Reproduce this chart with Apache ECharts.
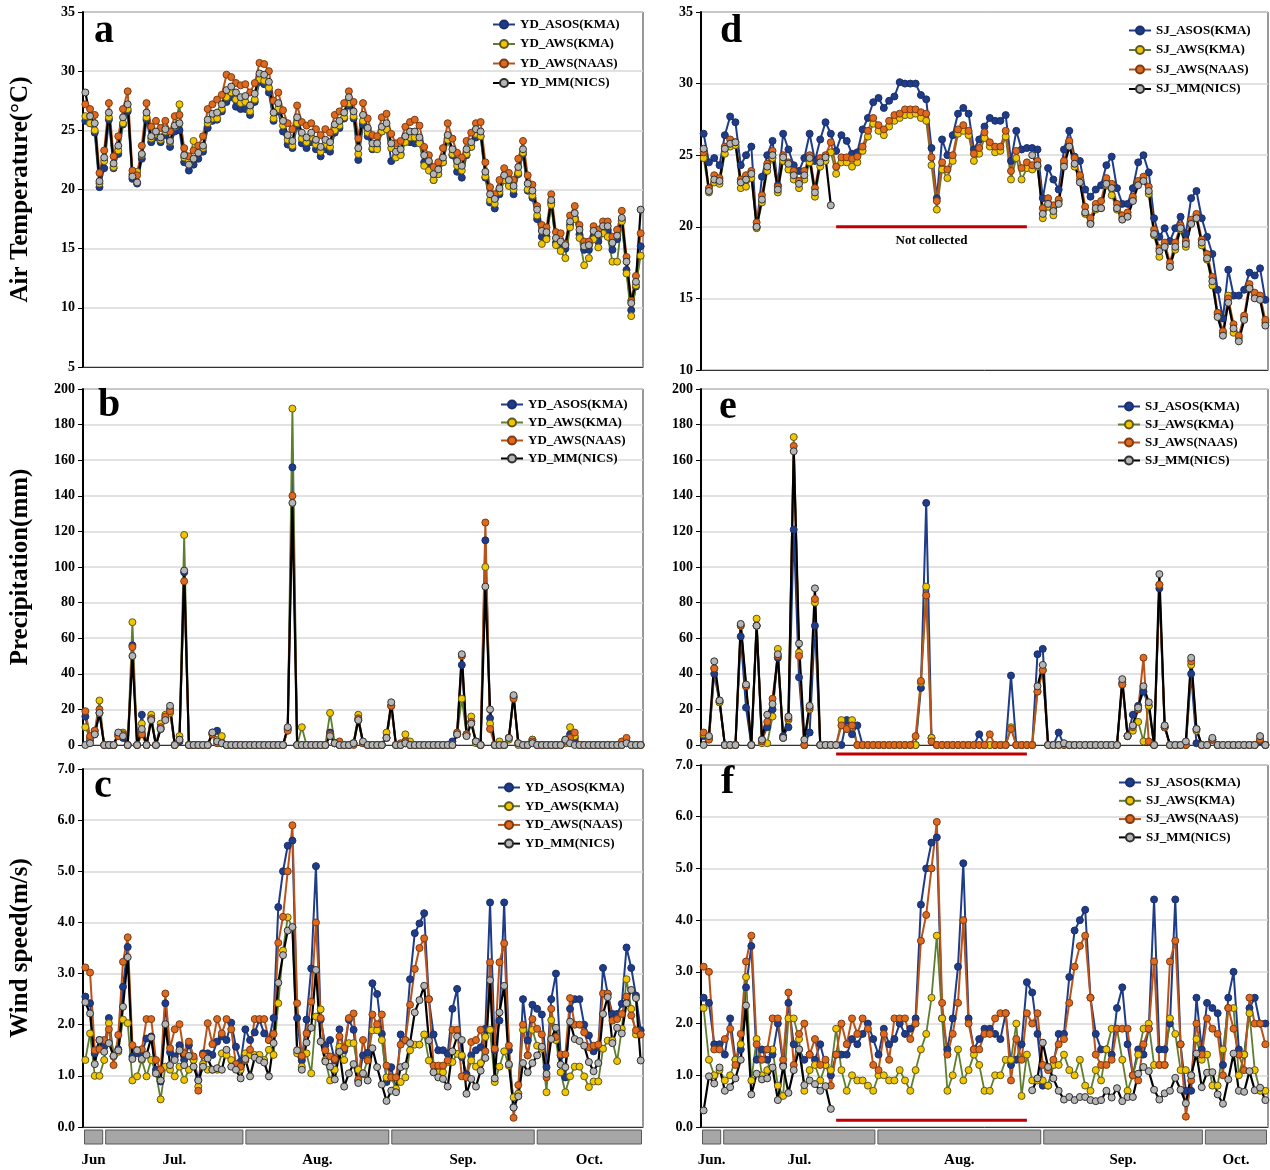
<!DOCTYPE html>
<html><head><meta charset="utf-8">
<script src="https://cdn.jsdelivr.net/npm/echarts@6/dist/echarts.min.js"></script>
<style>html,body{margin:0;padding:0;background:#fff}#c{width:1270px;height:1170px}</style>
</head><body><div id="c"></div>
<script>
const FONT = '"Liberation Serif","Times New Roman",serif';

// ---------- categories ----------
function dayLabels(n){const out=[];const d=new Date(2018,5,27);for(let i=0;i<n;i++){out.push((d.getMonth()+1)+'/'+d.getDate());d.setDate(d.getDate()+1);}return out;}
const daysYD = dayLabels(119);
const daysSJ = dayLabels(107);
const monthNamesYD = ['Jun','Jul.','Aug.','Sep.','Oct.'];
const monthBandsYD = [[-0.5,4.0],[4.0,33.8],[33.8,64.8],[64.8,95.7],[95.7,118.5]];
const monthNamesSJ = ['Jun.','Jul.','Aug.','Sep.','Oct.'];
const monthBandsSJ = [[-0.5,3.5],[3.5,32.6],[32.6,63.9],[63.9,94.4],[94.4,106.5]];
const notCollectedSJ = [25, 61];

const namesYD = ['YD_ASOS(KMA)','YD_AWS(KMA)','YD_AWS(NAAS)','YD_MM(NICS)'];
const namesSJ = ['SJ_ASOS(KMA)','SJ_AWS(KMA)','SJ_AWS(NAAS)','SJ_MM(NICS)'];

// ---------- a: YD air temperature ----------
const ydAsosTemp = [25.8,25.6,24.8,20.2,21.8,25.9,21.8,23.0,25.5,26.6,
20.9,20.5,22.6,25.9,24.0,24.4,24.0,24.6,23.6,24.9,
25.0,22.3,21.6,22.1,22.6,23.2,25.2,25.8,25.9,26.6,
27.4,27.8,27.0,26.8,26.8,26.3,27.4,29.1,28.9,28.2,
25.8,26.6,24.9,23.8,23.5,25.4,23.9,23.5,24.0,23.4,
22.8,23.4,23.2,24.8,25.2,26.0,27.1,26.0,22.5,25.5,
24.5,23.4,23.5,24.9,25.1,22.4,22.8,23.0,24.1,24.0,
23.9,24.0,22.3,22.0,20.8,21.3,22.3,24.3,22.9,21.5,
21.0,22.9,23.6,24.4,24.5,21.0,18.9,18.4,19.6,20.8,
20.4,19.6,21.3,23.0,19.9,19.3,17.5,16.0,16.0,18.9,
15.5,15.1,15.0,17.0,17.6,16.2,14.9,14.9,16.0,15.6,
16.6,16.6,14.9,15.8,17.4,13.2,9.8,11.8,15.2];
const ydAwsTemp = [26.2,25.6,25.0,20.5,22.4,26.1,21.9,23.3,25.6,26.8,
21.3,21.5,22.9,26.1,24.3,24.7,24.2,24.9,24.0,25.3,
27.2,22.7,22.4,24.1,23.2,23.5,25.6,26.0,26.0,26.8,
27.8,28.2,27.6,27.3,27.4,26.6,27.6,29.3,29.2,28.6,
26.0,26.8,25.4,24.2,23.7,25.6,24.3,24.0,24.4,23.8,
23.2,23.8,23.6,25.0,25.4,26.1,27.3,26.2,23.0,25.8,
24.8,23.5,23.4,24.9,25.1,23.5,22.7,22.9,24.0,24.4,
24.4,23.9,22.0,21.6,20.8,21.3,22.3,24.2,23.0,22.0,
21.6,23.0,23.6,24.7,24.5,21.1,19.1,18.8,19.8,20.8,
20.3,20.0,21.4,23.1,20.0,19.5,17.8,15.4,15.8,18.7,
15.3,14.8,14.2,16.8,17.5,15.9,13.6,14.2,15.8,15.1,
16.3,16.0,13.9,13.9,17.3,12.9,9.3,11.9,14.4];
const ydNaasTemp = [27.2,26.8,26.3,21.4,23.3,27.3,22.8,24.5,26.8,28.3,
21.6,21.2,23.7,27.3,25.3,25.8,25.2,25.8,24.9,26.2,
26.3,23.5,22.8,23.3,23.7,24.5,26.8,27.2,27.6,28.0,
29.7,29.5,29.0,28.8,28.9,28.2,29.0,30.7,30.6,30.0,
27.5,28.2,26.7,25.6,25.1,27.1,25.7,25.4,25.6,25.1,
24.6,25.1,24.8,26.3,26.6,27.3,28.3,27.4,24.3,27.3,
26.0,24.6,24.5,26.1,26.4,24.7,23.9,24.1,25.3,25.7,
25.9,25.4,23.6,22.9,21.9,22.3,23.5,25.6,24.3,23.1,
22.7,24.1,24.8,25.6,25.7,22.3,20.2,19.6,20.8,21.8,
21.4,20.8,22.6,24.1,21.2,20.4,18.6,17.0,16.8,19.6,
16.4,16.3,15.4,17.8,18.6,17.0,15.6,15.6,16.9,16.6,
17.3,17.3,16.0,16.6,18.2,14.3,10.6,12.7,16.3];
const ydMmTemp = [28.2,26.2,25.6,20.7,22.7,26.5,22.2,23.7,26.1,27.2,
21.1,20.6,23.0,26.5,24.5,24.9,24.4,25.1,24.1,25.4,
25.6,22.9,22.1,22.6,23.1,23.7,25.9,26.4,26.5,27.2,
28.4,28.7,28.2,27.8,27.9,27.1,28.1,29.8,29.7,29.1,
26.5,27.3,25.8,24.6,24.1,26.1,24.8,24.4,24.8,24.2,
23.6,24.2,24.0,25.5,25.8,26.5,27.8,26.6,23.5,26.3,
25.2,23.9,23.9,25.3,25.6,23.9,23.2,23.4,24.5,24.9,
24.9,24.4,22.9,22.4,21.3,21.7,22.7,24.6,23.4,22.4,
22.0,23.4,24.0,25.1,24.9,21.5,19.6,19.2,20.1,21.2,
20.8,20.3,21.9,23.4,20.5,19.9,18.3,16.5,16.4,19.1,
15.9,15.6,15.3,17.3,18.0,16.6,15.2,15.3,16.5,16.2,
16.9,16.9,15.5,16.1,17.6,13.9,10.4,12.2,18.3];

// ---------- b: YD precipitation ----------
const ydAsosPrec = [16,3,6,18,0,0,0,6,4,0,
56,0,17,0,15,0,9,15,20,0,
2,97,0,0,0,0,0,7,8,1,
0,0,0,0,0,0,0,0,0,0,
0,0,0,9,156,0,0,0,0,0,
0,0,7,1,0,0,0,1,14,1,
0,0,0,0,4,22,0,0,1,0,
0,0,0,0,0,0,0,0,2,6,
45,6,13,2,0,115,15,0,0,0,
4,27,1,0,0,3,0,0,0,0,
0,0,3,6,4,0,0,0,0,0,
0,0,0,0,0,2,0,0,0];
const ydAwsPrec = [10,4,8,25,0,0,0,5,7,0,
69,0,12,0,17,0,12,17,18,0,
5,118,0,0,0,0,0,6,3,5,
0,0,0,0,0,0,0,0,0,0,
0,0,0,9,189,0,10,0,0,0,
0,0,18,1,0,0,0,1,17,1,
0,0,0,0,7,22,0,0,6,2,
0,0,0,0,0,0,0,0,0,6,
26,6,16,1,0,100,12,0,2,0,
3,27,0,0,0,3,0,0,0,0,
0,0,1,10,5,0,0,0,0,0,
0,0,0,0,0,1,0,0,0];
const ydNaasPrec = [19,5,8,20,0,0,0,5,6,0,
55,0,6,0,15,0,10,16,19,0,
3,92,0,0,0,0,0,6,1,1,
0,0,0,0,0,0,0,0,0,0,
0,0,0,8,140,0,0,0,0,0,
0,0,6,1,2,0,0,0,15,1,
0,0,0,0,4,22,0,1,2,0,
0,0,0,0,0,0,0,0,0,7,
50,6,13,2,0,125,9,0,0,0,
4,26,1,0,0,2,0,0,0,0,
0,0,2,4,7,0,0,0,0,0,
0,0,0,0,2,4,0,0,0];
const ydMmPrec = [0,1,6,18,0,0,0,7,5,0,
50,0,9,0,14,0,9,14,22,0,
3,98,0,0,0,0,0,7,2,1,
0,0,0,0,0,0,0,0,0,0,
0,0,0,10,136,0,0,0,0,0,
0,0,5,1,0,0,0,1,14,2,
0,0,0,0,4,24,0,0,1,0,
0,0,0,0,0,0,0,0,0,6,
51,5,12,2,0,89,20,0,0,0,
4,28,1,0,0,1,0,0,0,0,
0,0,3,1,0,0,0,0,0,0,
0,0,0,0,0,1,0,0,0];

// ---------- c: YD wind speed ----------
const ydAsosWind = [2.55,2.42,1.44,1.70,1.57,2.13,1.38,1.52,2.74,3.52,
1.38,1.44,1.44,1.73,1.77,1.12,0.89,2.42,1.46,1.38,
1.60,1.31,1.60,1.34,0.92,1.44,1.44,1.41,1.67,1.77,
1.70,2.04,1.57,1.28,1.91,1.70,1.85,2.10,1.83,1.70,
2.13,4.30,5.00,5.50,5.60,2.13,1.30,2.10,3.10,5.10,
2.10,1.60,1.70,1.30,1.91,1.50,2.10,1.90,0.90,1.40,
1.45,2.81,2.60,1.82,0.88,1.17,0.71,1.81,1.69,2.89,
3.79,3.98,4.18,2.50,1.81,1.50,1.50,1.43,2.31,2.70,
1.37,1.03,1.40,1.50,1.56,1.92,4.39,1.50,2.08,4.39,
1.50,0.39,0.65,2.50,1.69,2.39,2.31,2.20,1.17,2.50,
3.00,1.40,0.97,2.31,2.50,2.50,2.00,1.79,1.48,1.56,
3.11,2.60,2.21,2.21,2.41,3.51,3.11,2.57,1.89];
const ydAwsWind = [1.31,1.83,1.00,1.00,1.31,2.03,1.38,1.47,2.10,2.03,
0.91,0.99,1.31,0.99,1.31,1.05,0.54,1.18,1.12,0.99,
1.18,0.92,1.12,1.31,0.79,1.23,1.12,1.12,1.12,1.44,
1.41,1.31,1.18,1.12,1.44,1.41,1.41,1.41,1.31,1.51,
1.41,2.42,3.45,4.10,3.90,1.44,1.18,1.44,1.05,2.16,
2.30,1.31,0.91,1.12,1.57,1.31,1.64,1.64,1.12,1.03,
1.31,1.89,1.89,1.70,0.97,0.97,0.75,0.88,0.97,1.50,
1.61,1.61,1.81,1.30,1.07,1.07,1.07,1.27,1.27,1.43,
1.40,0.97,1.30,1.18,1.25,1.76,1.90,0.88,1.18,1.48,
1.20,0.58,0.65,1.90,1.40,1.90,1.59,1.53,0.68,2.09,
1.70,1.07,0.68,0.99,1.18,1.18,0.99,0.78,0.89,0.89,
1.53,1.69,1.69,1.29,1.92,2.89,2.31,1.81,1.81];
const ydNaasWind = [3.12,3.02,1.50,1.52,1.70,1.91,1.21,1.80,3.23,3.71,
1.60,1.50,1.52,2.11,2.11,1.31,1.12,2.61,1.54,1.91,
2.01,1.44,1.67,1.38,0.71,1.41,2.03,1.62,2.11,1.83,
2.11,1.91,1.23,1.18,1.30,1.51,2.11,2.11,2.11,1.70,
1.82,3.60,4.11,5.00,5.90,2.42,1.39,1.83,2.45,4.00,
2.13,1.50,1.38,1.33,1.77,1.54,2.13,2.22,0.93,1.70,
1.30,2.20,2.01,2.20,1.20,0.97,0.97,1.61,1.70,2.39,
3.09,3.50,3.69,2.50,1.20,1.20,1.20,1.30,1.90,1.90,
0.99,0.97,1.66,1.70,1.90,1.48,3.22,1.53,3.22,3.59,
1.59,0.18,0.82,2.00,1.40,2.11,1.92,1.81,0.97,2.31,
1.76,1.42,1.42,2.52,2.00,2.00,1.85,1.56,1.59,1.61,
2.61,2.61,2.08,2.11,2.21,2.55,2.18,1.89,1.81];
const ydMmWind = [2.44,2.22,1.23,1.70,1.47,1.64,1.39,1.50,2.35,3.32,
1.33,1.50,1.33,1.41,1.75,1.05,0.91,2.01,1.21,1.31,
1.50,1.21,1.39,1.18,0.91,1.18,1.34,1.12,1.15,1.12,
1.51,1.18,1.12,0.95,1.33,0.99,1.36,1.31,1.26,0.99,
1.64,2.82,3.36,3.84,3.91,1.50,1.12,1.65,1.94,3.07,
1.67,1.28,1.18,0.93,1.47,0.79,1.05,1.23,0.86,1.05,
0.91,1.54,1.17,0.83,0.51,0.71,0.68,1.17,1.20,1.64,
2.24,2.48,2.76,1.69,1.07,0.97,0.94,0.79,1.48,1.77,
1.70,0.65,0.94,0.79,1.10,1.35,2.87,0.95,2.24,2.76,
1.23,0.38,0.60,1.25,1.07,1.25,1.40,1.57,1.04,1.72,
1.94,1.22,1.17,2.06,1.72,1.68,1.59,1.27,1.09,1.25,
2.21,2.54,1.64,1.94,1.83,2.42,2.68,2.52,1.30];

// ---------- d: SJ air temperature ----------
const sjAsosTemp = [26.5,24.5,24.8,24.3,26.4,27.7,27.3,24.3,25.0,25.6,
20.0,23.5,25.0,26.0,22.9,26.5,25.4,24.3,23.9,24.8,
26.5,24.6,26.1,27.3,26.5,25.3,26.4,26.0,25.1,25.2,
26.8,27.6,28.7,29.0,28.3,28.8,29.1,30.1,30.0,30.0,
30.0,29.2,28.9,25.5,22.0,26.1,25.0,26.4,27.9,28.3,
27.9,25.4,26.1,27.0,27.6,27.4,27.4,27.8,24.6,26.7,
25.4,25.5,25.5,25.4,22.0,24.1,23.3,22.6,25.4,26.7,
24.9,24.6,22.6,22.1,22.6,22.9,24.3,24.9,22.7,21.6,
21.6,22.7,24.5,25.0,23.8,20.6,19.3,19.9,19.0,19.9,
20.7,19.5,22.0,22.5,20.6,19.3,18.1,15.6,13.6,17.0,
15.2,15.2,15.6,16.8,16.6,17.1,14.9];
const sjAwsTemp = [24.8,22.4,23.1,23.0,25.1,25.6,25.7,22.7,22.8,23.4,
19.9,21.7,23.9,24.8,22.4,24.6,24.0,23.3,22.7,23.3,
24.5,22.1,24.2,24.6,25.2,23.7,24.5,24.5,24.2,24.5,
25.3,26.3,27.2,26.7,26.4,27.0,27.4,27.6,27.8,27.8,
27.9,27.6,27.4,24.3,21.2,24.0,23.4,24.6,26.5,26.7,
26.4,24.6,25.1,26.2,25.6,25.2,25.3,26.3,23.3,24.8,
23.3,24.1,24.0,24.2,20.6,21.4,20.8,21.8,24.4,25.9,
24.2,23.3,20.9,20.3,21.2,21.3,22.9,22.2,21.2,20.6,
20.8,21.9,23.1,23.4,22.3,19.4,17.9,18.7,17.2,18.4,
19.8,18.6,20.3,20.8,18.7,17.7,15.9,13.9,12.6,15.2,
12.6,12.2,13.6,15.8,15.2,15.1,13.3];
const sjNaasTemp = [25.2,22.7,23.6,23.4,25.6,26.1,25.9,23.3,23.6,23.9,
20.3,22.2,24.4,25.3,22.8,25.0,24.5,23.9,23.2,23.9,
25.0,22.7,24.8,25.0,25.9,24.2,24.85,24.85,24.75,24.9,
25.6,26.7,27.6,27.1,26.8,27.4,27.8,27.9,28.2,28.2,
28.2,28.0,27.9,24.85,21.8,24.5,24.0,25.0,26.8,27.1,
26.7,25.1,25.5,26.6,25.9,25.6,25.6,26.7,23.9,25.3,
24.1,24.5,24.3,24.6,21.3,22.0,21.5,21.9,24.6,26.0,
24.8,23.6,21.4,20.6,21.6,21.8,23.4,23.0,21.6,20.8,
21.0,22.1,23.2,23.5,22.8,19.8,18.5,18.9,17.5,18.9,
20.1,19.0,20.5,20.9,19.1,18.1,16.5,14.0,12.7,15.0,
13.2,12.4,13.8,16.0,15.4,15.2,13.5];
const sjMmTemp = [25.45,22.5,23.3,23.2,25.45,25.8,25.9,23.1,23.3,23.7,
20.0,21.9,24.2,25.0,22.6,24.85,24.4,23.6,23.0,23.6,
24.8,22.4,24.5,24.85,21.5,null,null,null,null,null,
null,null,null,null,null,null,null,null,null,null,
null,null,null,null,null,null,null,null,null,null,
null,null,null,null,null,null,null,null,null,null,
null,null,25.0,24.3,20.9,21.6,21.1,21.6,24.2,25.6,
24.4,23.1,21.0,20.2,21.3,21.3,23.0,22.7,21.3,20.5,
20.7,21.8,22.9,23.2,22.5,19.5,18.3,18.6,17.2,18.6,
19.9,18.8,20.2,20.6,18.9,17.8,16.2,13.7,12.4,14.7,
12.9,12.0,13.5,15.7,15.0,14.9,13.1];

// ---------- e: SJ precipitation ----------
const sjAsosPrec = [5,4,40,24,0,0,0,61,21,0,
67,3,10,20,49,5,10,121,38,0,
7,67,0,0,0,0,0,14,6,11,
0,0,0,0,0,0,0,0,0,0,
0,32,136,4,0,0,0,0,0,0,
0,0,6,0,0,0,0,0,39,0,
0,0,0,51,54,0,0,7,0,0,
0,0,0,0,0,0,0,0,0,35,
5,17,22,30,22,0,88,10,0,0,
0,0,40,1,0,0,3,0,0,0,
0,0,0,0,0,2,0];
const sjAwsPrec = [6,4,43,24,0,0,0,67,33,0,
71,1,1,16,54,4,14,173,52,0,
20,80,0,0,0,0,14,9,14,0,
0,0,0,0,0,0,0,0,0,0,
0,35,89,4,0,0,0,0,0,0,
0,0,0,0,0,0,0,0,10,0,
0,0,0,30,42,0,0,0,0,0,
0,0,0,0,0,0,0,0,0,34,
5,8,13,2,22,0,90,10,0,0,
0,0,45,8,0,0,3,0,0,0,
0,0,0,0,0,3,0];
const sjNaasPrec = [7,3,43,25,0,0,0,67,33,0,
67,2,13,26,50,4,15,168,50,0,
21,82,0,0,0,0,11,9,11,0,
0,0,0,0,0,0,0,0,0,0,
5,36,84,2,0,0,0,0,0,0,
0,0,0,0,6,0,0,0,9,0,
0,0,0,30,42,0,0,0,0,0,
0,0,0,0,0,0,0,0,0,34,
5,10,20,49,2,0,90,10,0,0,
0,0,47,9,0,0,3,0,0,0,
0,0,0,0,0,3,0];
const sjMmPrec = [0,5,47,25,0,0,0,68,34,0,
67,3,17,23,51,4,16,165,57,3,
22,88,0,0,0,0,null,null,null,null,
null,null,null,null,null,null,null,null,null,null,
null,null,null,null,null,null,null,null,null,null,
null,null,null,null,null,null,null,null,null,null,
null,null,null,33,45,0,0,0,1,0,
0,0,0,0,0,0,0,0,0,37,
5,11,21,33,24,0,96,11,0,0,
0,2,49,9,0,0,4,0,0,0,
0,0,0,0,0,5,0];

// ---------- f: SJ wind speed ----------
const sjAsosWind = [2.5,2.4,1.6,1.6,1.4,2.1,1.3,1.5,2.7,3.5,
1.3,1.5,1.3,1.4,2.0,1.2,2.4,1.6,1.5,1.3,
1.4,1.3,1.6,1.2,1.0,1.4,1.4,1.4,1.7,1.6,
1.8,2.0,1.7,1.4,1.9,1.6,1.7,2.0,1.8,1.9,
2.1,4.3,5.0,5.5,5.6,2.1,1.5,2.1,3.1,5.1,
2.1,1.5,1.7,1.9,1.9,1.8,1.7,2.2,1.2,1.3,
1.6,2.8,2.6,1.8,0.8,0.8,1.2,1.8,1.8,2.9,
3.8,4.0,4.2,2.5,1.8,1.5,1.5,1.4,2.3,2.7,
1.6,1.0,1.5,1.4,1.9,4.4,1.5,1.5,2.0,4.4,
1.6,0.7,0.7,2.5,1.5,2.4,2.3,2.2,1.2,2.5,
3.0,1.5,1.4,2.3,2.5,2.0,2.0];
const sjAwsWind = [2.3,1.3,1.0,1.1,0.9,1.0,1.3,1.6,2.9,0.9,
1.7,1.0,1.1,1.5,0.8,0.6,2.1,2.1,1.7,0.7,
1.1,1.2,0.9,1.2,1.1,1.9,1.1,0.7,1.0,0.9,
0.9,0.8,0.7,1.0,1.0,0.9,0.9,1.1,0.9,0.7,
1.1,1.5,1.8,2.5,3.7,2.1,0.7,1.0,1.5,0.9,
1.1,1.4,1.2,0.7,0.7,1.0,1.0,1.3,1.3,2.0,
0.6,1.4,0.9,0.9,0.9,0.8,1.2,1.2,1.4,1.1,
1.0,1.3,0.8,0.7,1.1,0.9,1.5,1.9,1.9,1.3,
0.7,1.0,1.4,1.9,2.0,1.2,1.2,1.2,2.1,1.8,
1.1,1.1,1.0,1.7,1.3,1.4,0.8,0.8,1.5,2.3,
2.3,1.0,1.4,2.2,1.1,0.7,0.7];
const sjNaasWind = [3.1,3.0,1.5,1.5,1.7,1.9,1.2,1.8,3.2,3.7,
1.6,1.3,1.5,2.1,2.1,1.3,2.6,1.2,1.8,2.0,
1.4,1.7,1.2,1.3,0.8,1.4,2.0,1.6,2.1,1.8,
2.1,1.9,1.2,1.1,1.8,1.3,2.1,2.1,2.1,1.7,
2.0,3.6,4.1,5.0,5.9,2.4,1.4,1.8,2.4,4.0,
2.0,1.5,1.5,1.8,1.8,2.1,2.2,2.2,0.9,1.7,
1.3,2.2,2.0,2.2,1.2,1.1,1.3,1.6,1.7,2.4,
3.1,3.5,3.7,2.5,1.4,1.2,1.2,1.3,1.9,1.9,
1.9,1.0,0.9,1.6,1.9,3.2,1.2,1.2,3.2,3.6,
1.6,0.2,0.9,2.0,1.4,2.1,1.9,1.8,1.0,2.3,
1.9,1.4,1.1,2.5,2.0,2.0,1.6];
const sjMmWind = [0.32,0.98,0.84,1.15,0.70,0.77,0.94,1.30,2.35,0.63,
1.03,0.92,0.94,1.15,0.52,1.17,0.66,1.10,1.50,0.81,
0.90,0.83,0.70,0.79,0.35,null,null,null,null,null,
null,null,null,null,null,null,null,null,null,null,
null,null,null,null,null,null,null,null,null,null,
null,null,null,null,null,null,null,null,null,null,
null,null,0.71,0.94,1.63,1.16,0.94,0.70,0.53,0.58,
0.52,0.58,0.58,0.52,0.50,0.52,0.70,0.57,0.75,0.50,
0.58,0.58,1.03,1.16,1.08,0.72,0.53,0.65,0.70,0.95,
0.72,0.46,1.00,1.42,0.77,1.05,1.06,0.63,0.45,0.92,
1.42,0.70,0.68,1.08,0.71,0.76,0.52];

// ---------- styles ----------
const STY = [
  {line:'#1F3C88', fill:'#1F3C88', border:'#1B2F6B', w:2},
  {line:'#5E7D2E', fill:'#F2C500', border:'#5C5A1E', w:1.8},
  {line:'#B9531A', fill:'#DD6A1E', border:'#7E3A10', w:2},
  {line:'#000000', fill:'#B5B5B5', border:'#2E2E2E', w:2.2}
];

// ---------- layout ----------
const grids = [
  {left:83, top:12, width:560, height:355},   // a
  {left:83, top:389, width:560, height:356},  // b
  {left:83, top:769, width:560, height:358},  // c
  {left:701, top:12, width:567, height:358},  // d
  {left:701, top:389, width:567, height:356}, // e
  {left:701, top:765, width:567, height:362}, // f
  {left:83, top:1130, width:560, height:14},  // month bars left
  {left:701, top:1130, width:567, height:14}  // month bars right
].map(g => Object.assign({show:true, borderColor:'#333', borderWidth:1, backgroundColor:'transparent', containLabel:false, outerBoundsMode:'none'}, g));
grids[6].show = false; grids[7].show = false;

function catAxis(gi, cats){
  return {type:'category', gridIndex:gi, data:cats, boundaryGap:true,
    axisLine:{show:true, lineStyle:{color:'#333', width:1}}, axisTick:{show:false}, axisLabel:{show:false}, splitLine:{show:false}};
}
function valAxis(gi, min, max, interval, name, fmt){
  return {type:'value', gridIndex:gi, min, max, interval,
    name: name || '', nameLocation:'middle', nameGap:50, nameRotate:90,
    nameTextStyle:{fontFamily:FONT, fontWeight:'bold', fontSize:25, color:'#000'},
    axisLine:{show:true, lineStyle:{color:'#000', width:2}},
    axisTick:{show:true, length:5, lineStyle:{color:'#000', width:1}},
    axisLabel:{fontFamily:FONT, fontWeight:'bold', fontSize:14, color:'#000', margin:8, formatter: fmt || (v => String(v))},
    splitLine:{show:true, lineStyle:{color:'#D9D9D9', width:1.5}}};
}
const f1 = v => v.toFixed(1);

const xAxes = [
  catAxis(0, daysYD), catAxis(1, daysYD), catAxis(2, daysYD),
  catAxis(3, daysSJ), catAxis(4, daysSJ), catAxis(5, daysSJ),
  {type:'value', gridIndex:6, min:-0.5, max:daysYD.length-0.5, show:false},
  {type:'value', gridIndex:7, min:-0.5, max:daysSJ.length-0.5, show:false}
];
const yAxes = [
  valAxis(0, 5, 35, 5, 'Air Temperature(°C)'),
  valAxis(1, 0, 200, 20, 'Precipitation(mm)'),
  valAxis(2, 0, 7, 1, 'Wind speed(m/s)', f1),
  valAxis(3, 10, 35, 5),
  valAxis(4, 0, 200, 20),
  valAxis(5, 0, 7, 1, '', f1),
  {type:'value', gridIndex:6, min:0, max:1, show:false},
  {type:'value', gridIndex:7, min:0, max:1, show:false}
];

function lineSeries(name, data, k, idx){
  const s = STY[k];
  return {name, type:'line', xAxisIndex:idx, yAxisIndex:idx, data,
    symbol:'circle', symbolSize:7, showSymbol:true, showAllSymbol:true, connectNulls:false,
    lineStyle:{color:s.line, width:s.w}, itemStyle:{color:s.fill, borderColor:s.border, borderWidth:1},
    emphasis:{disabled:true}, animation:false};
}

function monthSeries(idx, bands, labels){
  return {type:'custom', xAxisIndex:idx, yAxisIndex:idx, silent:true, clip:false,
    data: bands.map((b,i)=>[b[0], b[1], i]), encode:{x:[0,1]},
    renderItem(params, api){
      const s = api.coord([api.value(0), 0]);
      const e = api.coord([api.value(1), 0]);
      const top = api.coord([0, 1])[1];
      const bottom = s[1];
      const x0 = s[0] + 1.5, x1 = e[0] - 1.5;
      return {type:'group', children:[
        {type:'rect', shape:{x:x0, y:top, width:x1-x0, height:bottom-top}, style:{fill:'#A6A6A6', stroke:'#595959', lineWidth:1}},
        {type:'text', style:{text:labels[api.value(2)], x:(x0+x1)/2, y:bottom+16, align:'center', verticalAlign:'middle', font:'bold 15px '+FONT, fill:'#000'}}
      ]};
    }};
}

function gapSeries(idx, span, yVal, withText){
  return {type:'custom', xAxisIndex:idx, yAxisIndex:idx, silent:true, clip:false, z:10,
    data:[[span[0], yVal, span[1]]], encode:{x:0, y:1},
    renderItem(params, api){
      const a = api.coord([api.value(0), api.value(1)]);
      const b = api.coord([api.value(2), api.value(1)]);
      const ch = [{type:'line', shape:{x1:a[0], y1:a[1], x2:b[0], y2:b[1]}, style:{stroke:'#C00000', lineWidth:3}}];
      if (withText) ch.push({type:'text', style:{text:'Not collected', x:(a[0]+b[0])/2, y:a[1]+14, align:'center', verticalAlign:'middle', font:'bold 13px '+FONT, fill:'#000'}});
      return {type:'group', children:ch};
    }};
}

const series = [];
const ydSets = [[ydAsosTemp, ydAwsTemp, ydNaasTemp, ydMmTemp],[ydAsosPrec, ydAwsPrec, ydNaasPrec, ydMmPrec],[ydAsosWind, ydAwsWind, ydNaasWind, ydMmWind]];
const sjSets = [[sjAsosTemp, sjAwsTemp, sjNaasTemp, sjMmTemp],[sjAsosPrec, sjAwsPrec, sjNaasPrec, sjMmPrec],[sjAsosWind, sjAwsWind, sjNaasWind, sjMmWind]];
ydSets.forEach((set, p) => set.forEach((d, k) => series.push(lineSeries(namesYD[k], d, k, p))));
sjSets.forEach((set, p) => set.forEach((d, k) => series.push(lineSeries(namesSJ[k], d, k, p+3))));
series.push(monthSeries(6, monthBandsYD, monthNamesYD));
series.push(monthSeries(7, monthBandsSJ, monthNamesSJ));
series.push(gapSeries(3, notCollectedSJ, 20, true));
series.push(gapSeries(4, notCollectedSJ, -5, false));
series.push(gapSeries(5, notCollectedSJ, 0.13, false));

function legend(names, left, top, gap){
  return {data:names, orient:'vertical', left, top, itemWidth:22, itemHeight:10, itemGap:gap,
    selectedMode:false, padding:0,
    textStyle:{fontFamily:FONT, fontWeight:'bold', fontSize:13, color:'#000'}};
}
const legends = [
  legend(namesYD, 492, 18, 6.5),
  legend(namesYD, 500, 398, 5),
  legend(namesYD, 497, 781, 5.7),
  legend(namesSJ, 1128, 24, 6.5),
  legend(namesSJ, 1117, 400, 5),
  legend(namesSJ, 1118, 776, 5.3)
];

function letter(t, left, top){
  return {text:t, left, top, padding:0, textStyle:{fontFamily:FONT, fontWeight:'bold', fontSize:40, color:'#000'}};
}
const titles = [letter('a', 94, 12), letter('b', 98, 386), letter('c', 94, 767), letter('d', 720, 12), letter('e', 719, 388), letter('f', 721, 763)];

const chart = echarts.init(document.getElementById('c'), null, {renderer:'canvas'});
chart.setOption({
  animation:false, backgroundColor:'#fff',
  title: titles, legend: legends, grid: grids, xAxis: xAxes, yAxis: yAxes, series
});
</script>
</body></html>
